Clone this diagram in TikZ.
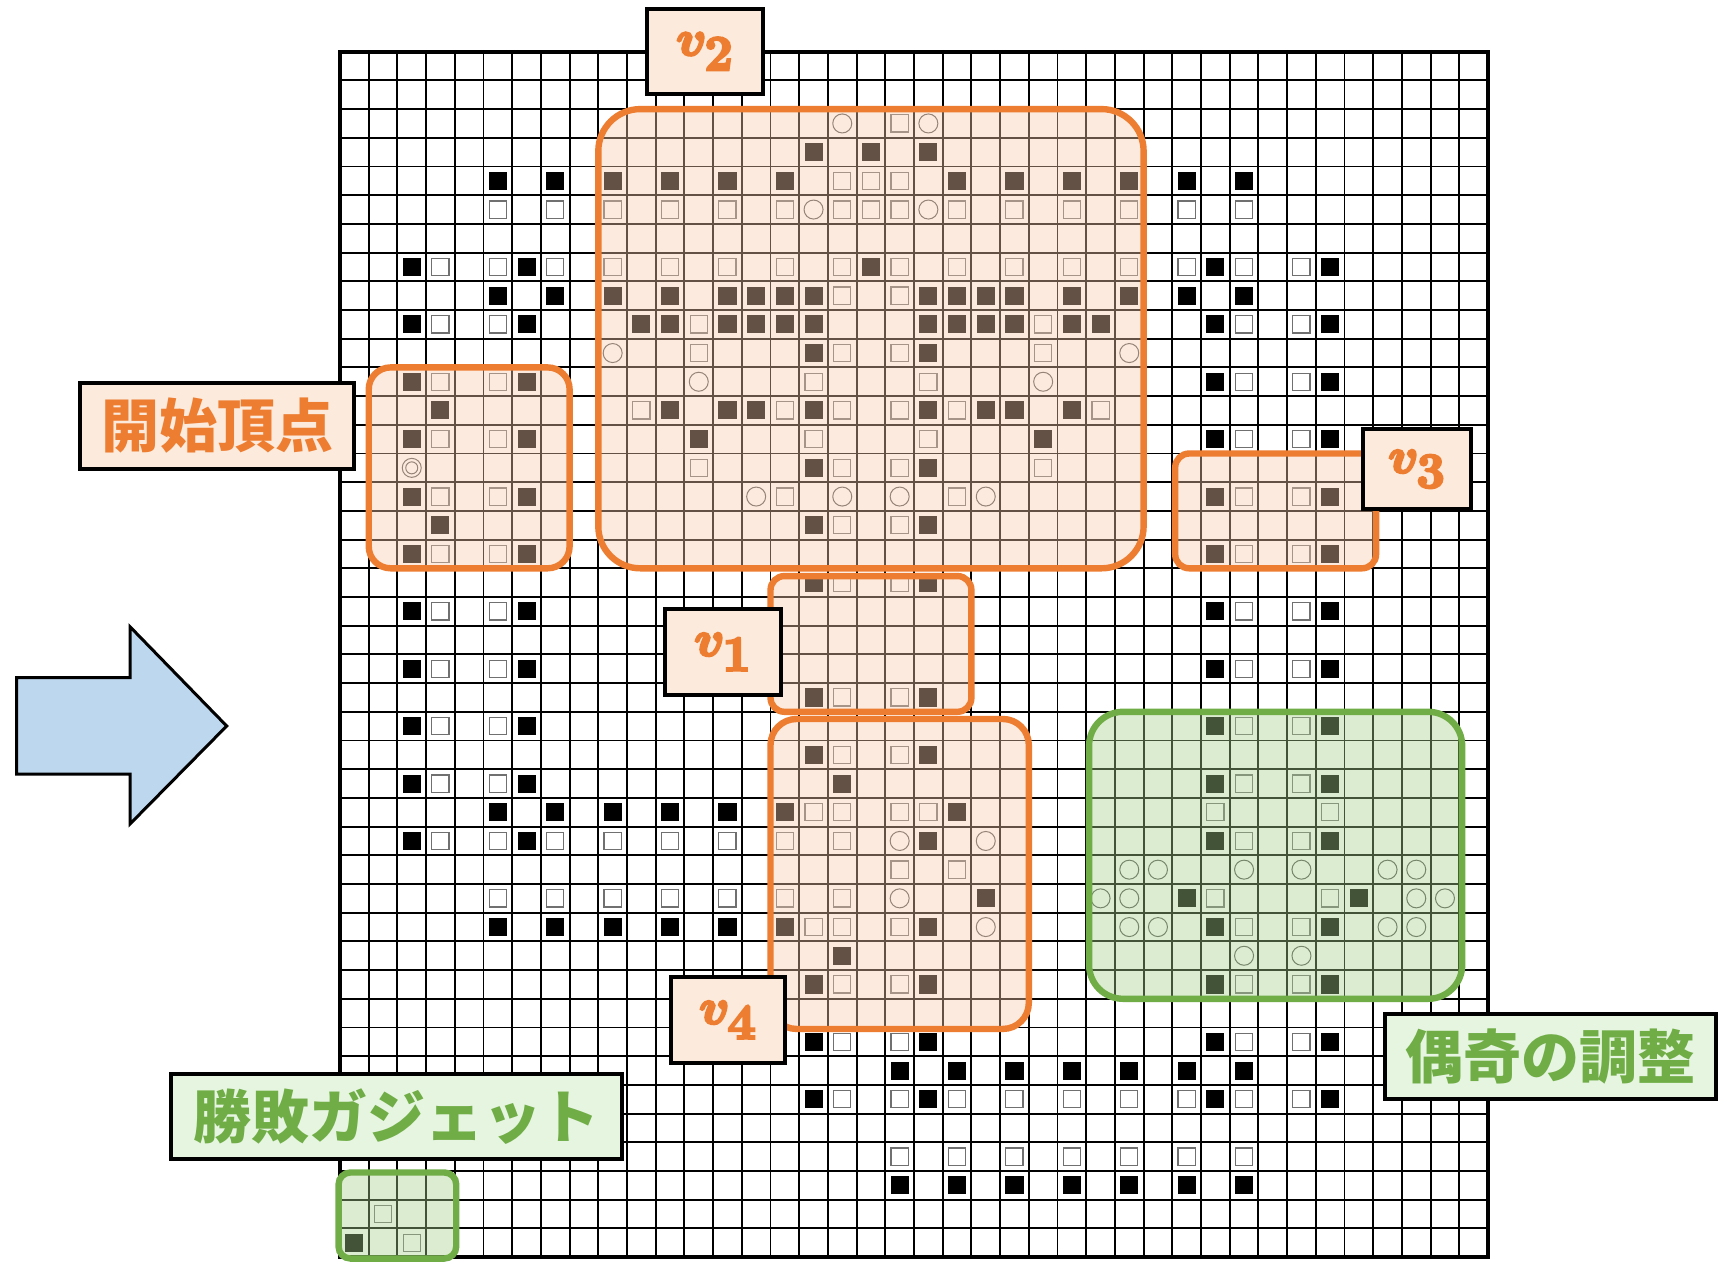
\documentclass[tikz,border=0pt]{standalone}
\usepackage{bm}
\usepackage{fontspec}
\newfontfamily\jpfont{Noto Sans CJK JP}
\definecolor{orangeB}{HTML}{ED7D31}
\definecolor{orangeF}{HTML}{F8CBAD}
\definecolor{orangeL}{HTML}{FCEADC}
\definecolor{greenB}{HTML}{70AD47}
\definecolor{greenF}{HTML}{A9D18E}
\definecolor{greenL}{HTML}{E6F5E0}
\definecolor{arrowF}{HTML}{BDD7EE}
\definecolor{hollowC}{HTML}{707070}
\definecolor{circC}{HTML}{555555}
\newcommand\fakeboldon{\special{pdf:literal direct 2 Tr 1.3 w}}
\newcommand\fakeboldoff{\special{pdf:literal direct 0 Tr}}
\tikzset{
  lbox/.style={draw=black, line width=2pt, inner sep=0pt},
  olab/.style={lbox, fill=orangeL, text=orangeB, font=\fontsize{33}{33}\selectfont},
  glab/.style={lbox, fill=greenL, text=greenB, font=\jpfont\bfseries\fontsize{29}{29}\selectfont},
  jlab/.style={lbox, fill=orangeL, text=orangeB, font=\jpfont\bfseries\fontsize{29}{29}\selectfont},
  oreg/.style={fill=orangeF, fill opacity=0.4, draw=orangeB, line width=3.2pt},
  greg/.style={fill=greenF, fill opacity=0.4, draw=greenB, line width=3.2pt},
  gline/.style={line width=0.95pt, black},
  fsq/.style={fill=black},
  hsq/.style={draw=hollowC, line width=0.6pt},
  circ/.style={draw=circC, line width=0.5pt}
}
\begin{document}
\begin{tikzpicture}[x=0.5pt,y=-0.5pt]
\useasboundingbox (0,0) rectangle (1727,1263);
\fill[white] (0,0) rectangle (1727,1263);
\begin{scope}[shift={(340,51.7)}, x=14.35pt, y=-14.35pt]
  % grid
  \foreach \i in {1,...,39} \draw[gline] (\i,0) -- (\i,42);
  \foreach \j in {1,...,41} \draw[gline] (0,\j) -- (40,\j);
  \draw[line width=1.9pt] (0,0) rectangle (40,42);
  % filled squares
  \foreach \rr/\cc in {3/{16,18,20}, 4/{5,7,9,11,13,15,21,23,25,27,29,31},
      7/{2,6,18,30,34}, 8/{5,7,9,11,13,14,15,16,20,21,22,23,25,27,29,31},
      9/{2,6,10,11,13,14,15,16,20,21,22,23,25,26,30,34}, 10/{16,20},
      11/{2,6,30,34}, 12/{3,11,13,14,16,20,22,23,25}, 13/{2,6,12,24,30,34},
      14/{16,20}, 15/{2,6,30,34}, 16/{3,16,20}, 17/{2,6,30,34}, 18/{16,20},
      19/{2,6,30,34}, 21/{2,6,30,34}, 22/{16,20}, 23/{2,6,30,34}, 24/{16,20},
      25/{2,6,17,30,34}, 26/{5,7,9,11,13,15,21}, 27/{2,6,20,30,34},
      29/{22,29,35}, 30/{5,7,9,11,13,15,20,30,34}, 31/{17}, 32/{16,20,30,34},
      34/{16,20,30,34}, 35/{19,21,23,25,27,29,31}, 36/{16,20,30,34},
      39/{19,21,23,25,27,29,31}, 41/{0}}
    \foreach \c in \cc
      \fill[fsq] (\c+0.185,\rr+0.185) rectangle (\c+0.815,\rr+0.815);
  % hollow squares
  \foreach \rr/\cc in {2/{19}, 4/{17,18,19},
      5/{5,7,9,11,13,15,17,18,19,21,23,25,27,29,31},
      7/{3,5,7,9,11,13,15,17,19,21,23,25,27,29,31,33}, 8/{17,19},
      9/{3,5,12,24,31,33}, 10/{12,17,19,24}, 11/{3,5,16,20,31,33},
      12/{10,15,17,19,21,26}, 13/{3,5,16,20,31,33}, 14/{12,17,19,24},
      15/{3,5,15,21,31,33}, 16/{17,19}, 17/{3,5,31,33}, 18/{17,19},
      19/{3,5,31,33}, 21/{3,5,31,33}, 22/{17,19}, 23/{3,5,31,33}, 24/{17,19},
      25/{3,5,31,33}, 26/{16,17,19,20,30,34}, 27/{3,5,7,9,11,13,15,17,31,33},
      28/{19,21}, 29/{5,7,9,11,13,15,17,30,34}, 30/{16,17,19,31,33},
      32/{17,19,31,33}, 34/{17,19,31,33}, 36/{17,19,21,23,25,27,29,31,33},
      38/{19,21,23,25,27,29,31}, 40/{1}, 41/{2}}
    \foreach \c in \cc
      \draw[hsq] (\c+0.2,\rr+0.2) rectangle (\c+0.8,\rr+0.8);
  % circles
  \foreach \rr/\cc in {2/{17,20}, 5/{16,20}, 10/{9,27}, 11/{12,24},
      15/{14,17,19,22}, 27/{19,22}, 28/{27,28,31,33,36,37},
      29/{19,26,27,37,38}, 30/{22,27,28,36,37}, 31/{31,33}}
    \foreach \c in \cc
      \draw[circ] (\c+0.5,\rr+0.5) circle[radius=4.75pt];
  \draw[circ] (2.5,14.5) circle[radius=4.75pt];
  \draw[circ] (2.5,14.5) circle[radius=3pt];
  % regions
  \draw[oreg, rounded corners=11pt] (1,11) rectangle (8,18);
  \draw[oreg, rounded corners=21pt] (9,2) rectangle (28,18);
  \draw[oreg, rounded corners=7pt] (15,18.27) rectangle (22,23);
  \draw[oreg, rounded corners=13pt] (15,23.25) rectangle (24,34.05);
  \draw[oreg, rounded corners=7pt] (29.1,14) rectangle (36.1,18);
  \draw[greg, rounded corners=17pt] (26.1,23) rectangle (39.1,33);
  \draw[greg, rounded corners=6pt] (-0.05,39.05) rectangle (4.05,42.05);
\end{scope}
% arrow
\draw[fill=arrowF, line width=1.5pt, line join=miter]
  (16.7,677.7) -- (130,677.7) -- (130,626.7) -- (226.7,726) -- (130,824)
  -- (130,774) -- (16.7,774) -- cycle;
% labels
\node[olab, minimum width=58pt, minimum height=42.5pt] (v2lab) at (705,51.5) {\fakeboldon$\bm{v}_{\bm{2}}$\fakeboldoff};
\node[jlab, minimum width=137pt, minimum height=43pt] (startlab) at (217,426) {開始頂点};
\node[olab, minimum width=54pt, minimum height=40pt] (v3lab) at (1417,469) {\fakeboldon$\bm{v}_{\bm{3}}$\fakeboldoff};
\node[olab, minimum width=58pt, minimum height=43pt] (v1lab) at (723,652) {\fakeboldon$\bm{v}_{\bm{1}}$\fakeboldoff};
\node[olab, minimum width=57pt, minimum height=43pt] (v4lab) at (728,1020) {\fakeboldon$\bm{v}_{\bm{4}}$\fakeboldoff};
\node[glab, minimum width=225.5pt, minimum height=42.5pt] (gadgetlab) at (396,1116.3) {勝敗ガジェット};
\node[glab, minimum width=165.5pt, minimum height=42.5pt] (paritylab) at (1550.5,1056.5) {偶奇の調整};
\end{tikzpicture}
\end{document}
